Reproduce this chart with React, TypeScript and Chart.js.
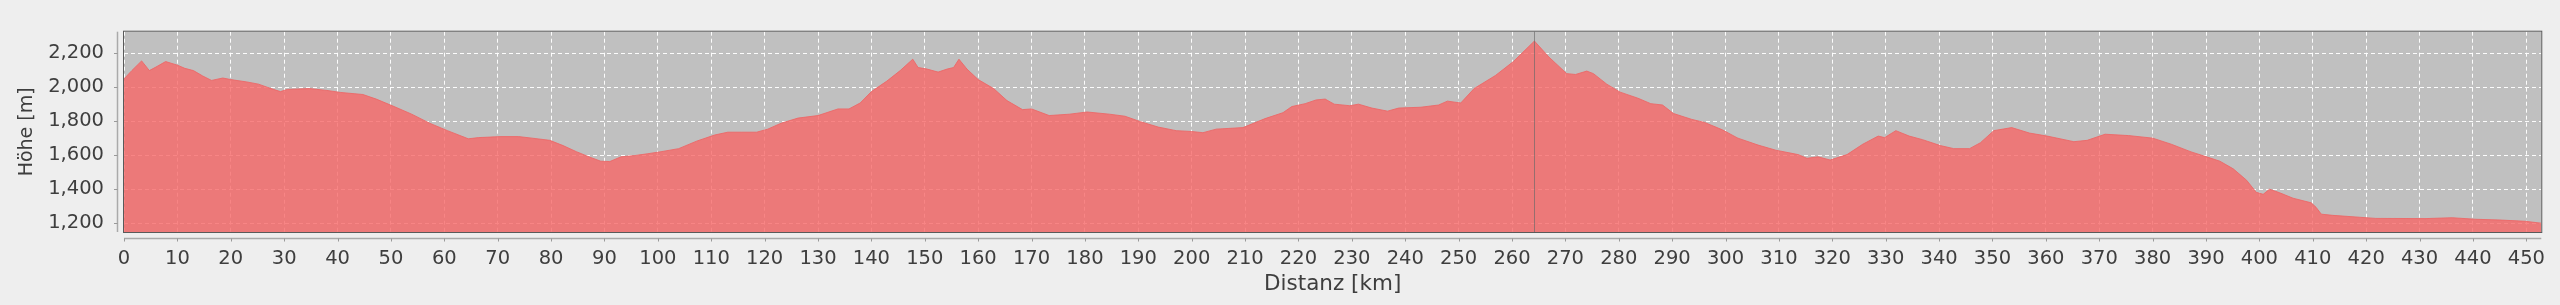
import React, { useEffect, useRef } from "react";
import { Chart, registerables } from "chart.js";

Chart.register(...registerables);

const distanceKm = [
  0, 1.5, 3.3, 4.75, 6, 7.8, 10, 11.4, 13, 14.75, 16.4, 18.5, 20, 23, 25.2, 27.25, 29.3, 30.6,
  34.75, 38, 40.6, 44.75, 47.25, 50.6, 53.9, 57.25, 60.6, 64.5, 66.4, 70.6, 73.9, 76.4, 79.75,
  82.25, 84.75, 87.25, 89.3, 91, 93.1, 95.6, 98.1, 100.6, 103.9, 107.25, 110.6, 113.1, 115.6,
  118.5, 120.6, 123.1, 126.25, 130, 133.75, 135.8, 137.9, 140, 142.9, 145.4, 147.75, 148.75,
  150.4, 152.5, 154.2, 155.4, 156.4, 157.9, 160, 162.9, 165.4, 168.3, 170, 173.3, 177.1, 180.4,
  184.6, 187.5, 190.4, 193.75, 197.1, 200, 202.1, 204.6, 209.6, 213.75, 217.1, 218.75, 221.25,
  223.3, 225, 226.7, 229.6, 231.25, 233.75, 236.7, 238.75, 242.9, 246.25, 247.9, 250.4, 252.9,
  256.9, 260.25, 264.2, 266.9, 270.25, 271.9, 274, 275.25, 277.75, 280.25, 283.6, 286, 288.2,
  290.25, 293.6, 296.1, 299.4, 302.3, 306.1, 309.4, 313.6, 315.25, 317.3, 319.6, 322.75, 325.7,
  328.6, 329.8, 331.9, 334.4, 336.9, 340.25, 342.75, 345.7, 347.75, 350.25, 353.6, 356.9, 360.25,
  365.25, 367.75, 371.1, 375.5, 380, 383.5, 387.2, 390.1, 392.6, 395.1, 397.6, 399.4, 400.7,
  401.9, 403.8, 406.3, 409.7, 410.6, 411.6, 413.75, 418.7, 421.8, 431.2, 436.1, 440.5, 445.5,
  449.8, 452.8,
];

const elevationM = [
  2050, 2100, 2156, 2099, 2120, 2152, 2131, 2112, 2099, 2067, 2041, 2055, 2046, 2032, 2019, 1996,
  1975, 1988, 1993, 1982, 1970, 1958, 1931, 1887, 1842, 1789, 1745, 1697, 1704, 1710, 1710, 1701,
  1688, 1657, 1621, 1589, 1565, 1563, 1591, 1598, 1609, 1621, 1639, 1683, 1719, 1736, 1736, 1736,
  1754, 1789, 1819, 1834, 1873, 1873, 1908, 1975, 2037, 2099, 2166, 2117, 2108, 2090, 2108, 2117,
  2166, 2108, 2046, 1993, 1922, 1869, 1873, 1834, 1842, 1855, 1842, 1830, 1798, 1766, 1745, 1740,
  1733, 1754, 1763, 1816, 1851, 1887, 1904, 1926, 1931, 1901, 1892, 1901, 1878, 1860, 1878, 1883,
  1896, 1919, 1908, 1993, 2070, 2152, 2273, 2179, 2081, 2076, 2096, 2081, 2019, 1972, 1936, 1904,
  1896, 1846, 1812, 1793, 1750, 1701, 1660, 1630, 1604, 1582, 1591, 1572, 1604, 1665, 1713, 1704,
  1745, 1713, 1692, 1657, 1639, 1639, 1674, 1745, 1763, 1731, 1713, 1680, 1688, 1724, 1716, 1701,
  1665, 1620, 1591, 1565, 1520, 1453, 1382, 1370, 1400, 1379, 1347, 1320, 1294, 1253, 1246, 1235,
  1228, 1227, 1232, 1223, 1218, 1211, 1200,
];

const xTickValues = [
  0, 10, 20, 30, 40, 50, 60, 70, 80, 90, 100, 110, 120, 130, 140, 150, 160, 170, 180, 190, 200,
  210, 220, 230, 240, 250, 260, 270, 280, 290, 300, 310, 320, 330, 340, 350, 360, 370, 380, 390,
  400, 410, 420, 430, 440, 450,
];
const yTickValues = [1200, 1400, 1600, 1800, 2000, 2200];
const xRange = [0, 452.8];
const yRange = [1148, 2328];
const markerKm = 264.2;
const xTitle = "Distanz [km]";
const yTitle = "Höhe [m]";

const FONT = "'DejaVu Sans', 'Liberation Sans', sans-serif";
const TEXT = "#3e3e3e";

export default function App() {
  const ref = useRef<HTMLCanvasElement>(null);

  useEffect(() => {
    document.body.style.margin = "0";
    document.body.style.background = "#eeeeee";
    const canvas = ref.current;
    if (!canvas) return;

    const jfreePlugin = {
      id: "jfreeLook",
      beforeDraw(chart: any) {
        const { ctx, chartArea: a } = chart;
        ctx.save();
        ctx.fillStyle = "#eeeeee";
        ctx.fillRect(0, 0, chart.width, chart.height);
        ctx.fillStyle = "#c0c0c0";
        ctx.fillRect(a.left, a.top, a.right - a.left, a.bottom - a.top);
        ctx.restore();
      },
      afterDatasetsDraw(chart: any) {
        const { ctx, chartArea: a, scales } = chart;
        const xs = scales.x;
        const ys = scales.y;
        ctx.save();
        const mx = Math.round(xs.getPixelForValue(markerKm)) + 0.5;
        ctx.strokeStyle = "rgba(105,105,105,0.65)";
        ctx.lineWidth = 1;
        ctx.beginPath();
        ctx.moveTo(mx, a.top);
        ctx.lineTo(mx, a.bottom);
        ctx.stroke();
        ctx.strokeStyle = "#5a5a5a";
        ctx.lineWidth = 1;
        ctx.strokeRect(a.left - 0.5, a.top - 0.5, a.right - a.left + 1, a.bottom - a.top + 1);
        ctx.strokeStyle = "#aaaaaa";
        ctx.lineWidth = 1.5;
        const axY = a.bottom + 6.5;
        ctx.beginPath();
        ctx.moveTo(a.left, axY);
        ctx.lineTo(a.right, axY);
        ctx.stroke();
        const axX = a.left - 6.5;
        ctx.beginPath();
        ctx.moveTo(axX, a.top);
        ctx.lineTo(axX, a.bottom);
        ctx.stroke();
        ctx.strokeStyle = "#999999";
        ctx.lineWidth = 1;
        for (const v of xTickValues) {
          const px = Math.round(xs.getPixelForValue(v)) + 0.5;
          ctx.beginPath();
          ctx.moveTo(px, axY);
          ctx.lineTo(px, axY + 3);
          ctx.stroke();
        }
        for (const v of yTickValues) {
          const py = Math.round(ys.getPixelForValue(v)) + 0.5;
          ctx.beginPath();
          ctx.moveTo(axX, py);
          ctx.lineTo(axX - 3.5, py);
          ctx.stroke();
        }
        ctx.restore();
      },
    };

    const chart = new Chart(canvas, {
      type: "line",
      data: {
        datasets: [
          {
            data: distanceKm.map((d, i) => ({ x: d, y: elevationM[i] })),
            fill: "start",
            backgroundColor: "rgba(246,102,102,0.8)",
            borderColor: "rgba(236,104,104,0.9)",
            borderWidth: 1,
            pointRadius: 0,
            tension: 0,
          },
        ],
      },
      options: {
        animation: false,
        responsive: false,
        events: [],
        layout: { padding: { left: 0, top: 10, right: 10, bottom: 0 } },
        plugins: { legend: { display: false }, tooltip: { enabled: false } },
        scales: {
          x: {
            type: "linear",
            min: xRange[0],
            max: xRange[1],
            afterBuildTicks: (s: any) => {
              s.ticks = xTickValues.map((v) => ({ value: v }));
            },
            afterFit: (s: any) => {
              s.height = 73;
            },
            grid: { color: "rgba(255,255,255,0.95)", lineWidth: 1, drawTicks: false },
            border: { display: false, dash: [4, 3] },
            ticks: {
              autoSkip: false,
              maxRotation: 0,
              padding: 15,
              color: TEXT,
              font: { family: FONT, size: 19.5 },
              callback: (v: any) => String(v),
            },
            title: {
              display: true,
              text: xTitle,
              color: TEXT,
              font: { family: FONT, size: 21.5 },
              padding: { top: 0, bottom: 8 },
            },
          },
          y: {
            type: "linear",
            min: yRange[0],
            max: yRange[1],
            afterBuildTicks: (s: any) => {
              s.ticks = yTickValues.map((v) => ({ value: v }));
            },
            afterFit: (s: any) => {
              s.width = 124;
            },
            grid: { color: "rgba(255,255,255,0.95)", lineWidth: 1, drawTicks: false },
            border: { display: false, dash: [4, 3] },
            ticks: {
              padding: 20,
              color: TEXT,
              font: { family: FONT, size: 19.5 },
              callback: (v: any) => Number(v).toLocaleString("en-US"),
            },
            title: {
              display: true,
              text: yTitle,
              color: TEXT,
              font: { family: FONT, size: 19 },
              padding: { top: 16, bottom: 0 },
            },
          },
        },
      },
      plugins: [jfreePlugin],
    });

    return () => chart.destroy();
  }, []);

  return (
    <div style={{ position: "absolute", left: 0, top: 0, width: 2560, height: 305, background: "#eeeeee" }}>
      <canvas ref={ref} width={2560} height={305} style={{ display: "block", width: 2560, height: 305 }} />
    </div>
  );
}
